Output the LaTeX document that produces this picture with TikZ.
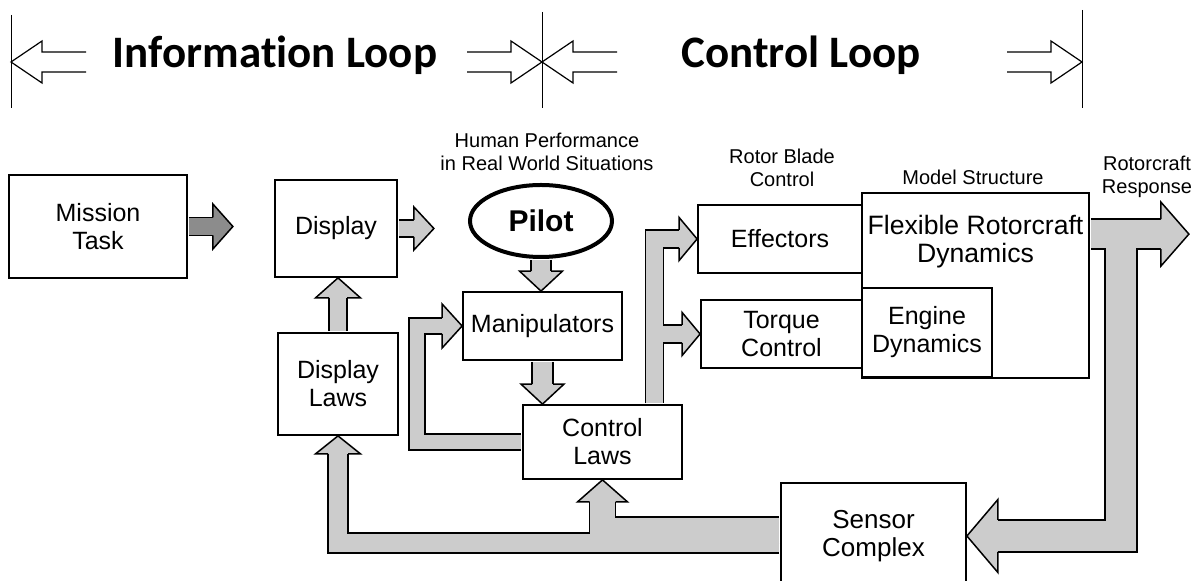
\documentclass[tikz,border=0pt]{standalone}
\usepackage{fontspec}
\setmainfont{Liberation Sans}
\newfontfamily\hdrfont[Ligatures=NoCommon]{Carlito}
\usetikzlibrary{calc,shapes.geometric}
\definecolor{tone}{gray}{0.80}
\definecolor{darktone}{gray}{0.55}
\tikzset{
  box/.style     = {draw, line width=0.9pt, inner sep=0pt, align=center,
                    font=\fontsize{12.5}{14}\selectfont},
  inbox/.style   = {align=center, font=\fontsize{13.3}{14}\selectfont},
  lbl/.style     = {align=center, font=\fontsize{10}{11.5}\selectfont},
  hdr/.style     = {font=\hdrfont\bfseries\fontsize{22.5}{27}\selectfont},
  divider/.style = {line width=0.5pt},
  hollowline/.style = {line width=0.6pt, line join=miter},
  fatout/.style  = {draw=black, line width={(#1+1.5)*0.5pt}, line join=miter,
                    shorten <=0.45pt},
  fatin/.style   = {draw=tone, line width={(#1-1.5)*0.5pt}, line join=miter,
                    shorten <=0.45pt},
  fathd/.style   = {draw=black, fill=#1, line width=0.75pt, line join=miter}
}
% head of a fat arrow: back, tip, half shaft, half head
\newcommand{\fathead}[5][tone]{%
  \filldraw[fathd=#1] ($#2!#4!90:#3$) -- ($#2!#5!90:#3$) -- #3
    -- ($#2!#5!-90:#3$) -- ($#2!#4!-90:#3$);}
% open arrow of the header, 1 = points left, -1 = points right
\newcommand{\hollowarrow}[2]{%
  \draw[hollowline, shift={#1}, xscale=#2] (75,-10) -- (31,-10) -- (31,-21)
    -- (0,0) -- (31,21) -- (31,10) -- (75,10);}

\begin{document}
\begin{tikzpicture}[x=0.5pt, y=-0.5pt]
  \useasboundingbox (0,0) rectangle (1204,581);
  \clip (0,0) rectangle (1204,581);

  % header
  \coordinate (sepL) at (11,62);
  \coordinate (sepM) at (542,62);
  \coordinate (sepR) at (1082,62);
  \draw[divider] (sepL) ++(0,-47) -- ++(0,93);
  \draw[divider] (sepM) ++(0,-50) -- ++(0,96);
  \draw[divider] (sepR) ++(0,-52) -- ++(0,98);
  \node[hdr, anchor=base] (infoloop) at (275,68) {Information Loop};
  \node[hdr, anchor=base] (ctrlloop) at (801,68) {Control Loop};
  \hollowarrow{(sepL)}{1}
  \hollowarrow{(sepM)}{-1}
  \hollowarrow{(sepM)}{1}
  \hollowarrow{(sepR)}{-1}

  % blocks
  \node[box, minimum width=89pt, minimum height=51.5pt] (mission) at (98,226.5) {Mission\\Task};
  \node[box, minimum width=61pt, minimum height=48.5pt] (display) at (336,228.5) {Display};
  \node[box, minimum width=60pt, minimum height=51pt] (dlaws) at (338,384) {Display\\Laws};
  \node[ellipse, draw, line width=2pt, minimum width=71pt, minimum height=36pt, inner sep=0pt,
        font=\bfseries\fontsize{15}{18}\selectfont] (pilot) at (541,221) {Pilot};
  \node[box, minimum width=79.5pt, minimum height=34pt] (manip) at (542.5,326) {Manipulators};
  \node[box, minimum width=79.5pt, minimum height=37pt] (ctrl) at (602.5,442) {Control\\Laws};
  \node[box, minimum width=82pt, minimum height=34pt] (eff) at (780,239) {Effectors};
  \node[box, minimum width=80.5pt, minimum height=34pt] (torque) at (781.5,334) {Torque\\Control};
  \node[box, minimum width=113.5pt, minimum height=92.5pt] (flex) at (975.5,285.5) {};
  \node[inbox] (flexname) at (975.5,242) {Flexible Rotorcraft\\Dynamics};
  \node[box, minimum width=65pt, minimum height=44.5pt] (engine) at (927,332.5) {Engine\\Dynamics};
  \node[box, minimum width=92.5pt, minimum height=53pt,
        font=\fontsize{13}{14}\selectfont] (sensor) at (873.5,536) {Sensor\\Complex};

  % labels
  \node[lbl] (humanperf) at (547,152) {Human Performance\\in Real World Situations};
  \node[lbl] (rotorblade) at (782,168) {Rotor Blade\\Control};
  \node[lbl] (modelstr) at (973,177) {Model Structure};
  \node[lbl] (response) at (1147,177) {Rotorcraft\\Response};

  % fat arrows
  \coordinate (m-back) at ($(mission.east)+(25,0)$);
  \coordinate (m-tip)  at ($(mission.east)+(45,0)$);
  \coordinate (d-back) at ($(display.east)+(16,0)$);
  \coordinate (d-tip)  at ($(display.east)+(36,0)$);
  \coordinate (dd-tip) at (dlaws.north |- display.south);
  \coordinate (dd-back) at ($(dd-tip)+(0,20)$);
  \coordinate (p-tip)  at (pilot.south |- manip.north);
  \coordinate (p-back) at ($(p-tip)+(0,-20)$);
  \coordinate (mc-tip) at (manip.south |- ctrl.north);
  \coordinate (mc-back) at ($(mc-tip)+(0,-20)$);
  \coordinate (lp-back) at ($(manip.west)+(-20,0)$);
  \coordinate (ct-start) at ($(ctrl.north east)+(-28.5,0)$);
  \coordinate (e-back) at ($(eff.west)+(-18,0)$);
  \coordinate (t-back) at ($(torque.west)+(-18,0)$);
  \coordinate (r-start) at ($(flex.north east)+(0,42)$);
  \coordinate (r-back) at ($(r-start)+(71,0)$);
  \coordinate (r-tip)  at ($(r-start)+(99,0)$);
  \coordinate (bar-top) at ($(r-start)+(31,-15)$);
  \coordinate (s-back) at ($(sensor.east)+(31,0)$);
  \coordinate (c-back) at ($(ctrl.south)+(0,22)$);
  \coordinate (dl-back) at ($(dlaws.south)+(0,18)$);

  \draw[fatout=18] (mission.east) -- (m-back);
  \draw[fatin=18, draw=darktone] (mission.east) -- (m-back);
  \draw[fatout=17] (display.east) -- (d-back);
  \draw[fatin=17] (display.east) -- (d-back);
  \draw[fatout=18] (dlaws.north) -- (dd-back);
  \draw[fatin=18] (dlaws.north) -- (dd-back);
  \draw[fatout=20] (pilot.south) -- (p-back);
  \draw[fatin=20] (pilot.south) -- (p-back);
  \draw[fatout=21] (manip.south) -- (mc-back);
  \draw[fatin=21] (manip.south) -- (mc-back);
  \draw[fatout=16] (ctrl.west) -| ($(manip.west)+(-45,0)$) -- (lp-back);
  \draw[fatin=16] (ctrl.west) -| ($(manip.west)+(-45,0)$) -- (lp-back);

  \draw[fatout=18] (ct-start) |- (e-back);
  \draw[fatout=18] (ct-start) |- (t-back);
  \draw[fatin=18] (ct-start) |- (e-back);
  \draw[fatin=18] (ct-start) |- (t-back);

  \draw[fatout=30] (r-start) -- (r-back);
  \draw[fatout=32] (bar-top) |- (s-back);
  \draw[fatin=30] (r-start) -- (r-back);
  \draw[fatin=32] (bar-top) |- (s-back);

  \draw[fatout=26] ($(sensor.west)+(0,-6)$) -| (c-back);
  \draw[fatout=20] ($(sensor.west)+(0,7)$) -| (dl-back);
  \draw[fatin=26] ($(sensor.west)+(0,-6)$) -| (c-back);
  \draw[fatin=20] ($(sensor.west)+(0,7)$) -| (dl-back);

  \fathead[darktone]{(m-back)}{(m-tip)}{4.5pt}{11.25pt}
  \fathead{(d-back)}{(d-tip)}{4.25pt}{10.75pt}
  \fathead{(dd-back)}{(dd-tip)}{4.5pt}{11.25pt}
  \fathead{(p-back)}{(p-tip)}{5pt}{10.75pt}
  \fathead{(mc-back)}{(mc-tip)}{5.25pt}{10.75pt}
  \fathead{(lp-back)}{(manip.west)}{4pt}{11pt}
  \fathead{(e-back)}{(eff.west)}{4.5pt}{10.75pt}
  \fathead{(t-back)}{(torque.west)}{4.5pt}{10.75pt}
  \fathead{(r-back)}{(r-tip)}{7.5pt}{16pt}
  \fathead{(s-back)}{(sensor.east)}{8pt}{18.25pt}
  \fathead{(c-back)}{(ctrl.south)}{6.5pt}{12.5pt}
  \fathead{(dl-back)}{(dlaws.south)}{5pt}{11.25pt}
\end{tikzpicture}
\end{document}
